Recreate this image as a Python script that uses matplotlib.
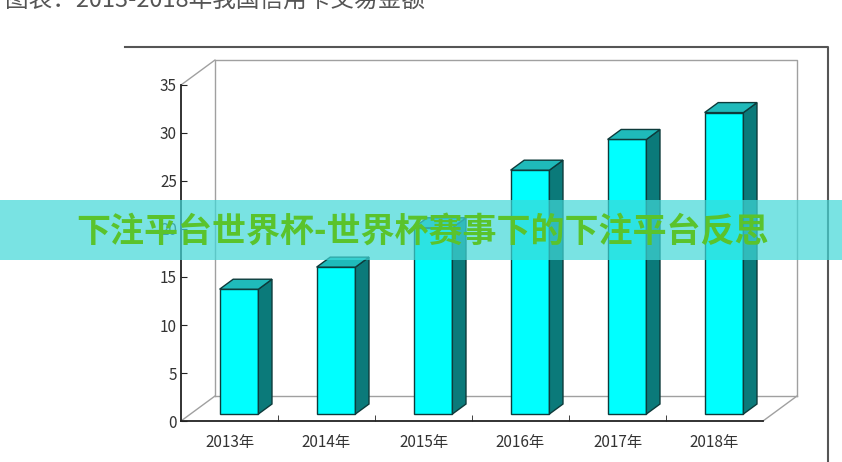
import numpy as np
import matplotlib.pyplot as plt
from matplotlib.patches import Polygon, Rectangle
from matplotlib.lines import Line2D

plt.rcParams['font.family'] = ['Noto Sans CJK SC', 'DejaVu Sans']

years = ['2013年', '2014年', '2015年', '2016年', '2017年', '2018年']
amounts = [13.0, 15.3, 19.4, 25.4, 28.6, 31.4]
y_ticks = [0, 5, 10, 15, 20, 25, 30, 35]
title = '图表：2013-2018年我国信用卡交易金额'
banner = '下注平台世界杯-世界杯赛事下的下注平台反思'

W, H = 842, 462
fig = plt.figure(figsize=(W / 100, H / 100), dpi=100)
ax = fig.add_axes([181 / W, 1 - 421 / H, 582 / W, 336 / H])
x0_lim, x1_lim = -0.5, len(years) - 0.5
y0_lim, y1_lim = 0, 35
ax.set_xlim(x0_lim, x1_lim)
ax.set_ylim(y0_lim, y1_lim)

# oblique depth of the box (data units) and where the bars sit inside it
ddx, ddy = 0.35, 2.6
f0, f1 = 0.28, 0.68
bw = 0.4

wall = '#a0a0a0'
# back wall + floor
ax.plot([x0_lim + ddx, x0_lim + ddx, x1_lim + ddx, x1_lim + ddx],
        [y0_lim + ddy, y1_lim + ddy, y1_lim + ddy, y0_lim + ddy],
        color=wall, lw=1, clip_on=False, zorder=1)
ax.plot([x0_lim + ddx, x1_lim + ddx], [ddy, ddy], color=wall, lw=1, clip_on=False, zorder=1)
for xx, yy in [(x0_lim, y0_lim), (x1_lim, y0_lim), (x0_lim, y1_lim)]:
    ax.plot([xx, xx + ddx], [yy, yy + ddy], color=wall, lw=1, clip_on=False, zorder=1)

# bars
x = np.arange(len(years))
edge = '#0d3b3b'
ax.bar(x + f0 * ddx, amounts, width=bw, bottom=f0 * ddy, color='#00ffff',
       edgecolor=edge, linewidth=1, zorder=3, clip_on=False)
bx, by = (f1 - f0) * ddx, (f1 - f0) * ddy
for i, v in enumerate(amounts):
    left = i - bw / 2 + f0 * ddx
    right = left + bw
    bot = f0 * ddy
    top = bot + v
    side = Polygon([(right, bot), (right + bx, bot + by), (right + bx, top + by), (right, top)],
                   closed=True, facecolor='#0b7a7a', edgecolor=edge, lw=1, zorder=3, clip_on=False)
    cap = Polygon([(left, top), (right, top), (right + bx, top + by), (left + bx, top + by)],
                  closed=True, facecolor='#1fbaba', edgecolor=edge, lw=1, zorder=3, clip_on=False)
    ax.add_patch(side)
    ax.add_patch(cap)

# axes
for s in ['top', 'right']:
    ax.spines[s].set_visible(False)
for s in ['left', 'bottom']:
    ax.spines[s].set_color('#222222')
    ax.spines[s].set_linewidth(1.3)
ax.set_facecolor('none')
ax.set_yticks(y_ticks)
ax.tick_params(axis='y', direction='in', length=4, pad=3, labelsize=11,
               labelcolor='#333333', color='#222222')
ax.set_xticks(x)
ax.set_xticklabels(years)
ax.set_xticks(x[:-1] + 0.5, minor=True)
ax.tick_params(axis='x', which='major', length=0, pad=9, labelsize=11, labelcolor='#333333')
ax.tick_params(axis='x', which='minor', direction='in', length=4, color='#222222')

# page decorations
fig.text(5 / W, 1 - 6.7 / H, title, ha='left', va='baseline', fontsize=17, color='#555555')
fig.add_artist(Line2D([125 / W, 828 / W, 828 / W], [1 - 47 / H, 1 - 47 / H, 0],
                      transform=fig.transFigure, color='#555555', lw=1.5))
fig.add_artist(Rectangle((0, 1 - 260 / H), 1, 60 / H, transform=fig.transFigure,
                         facecolor='#40d8d8', alpha=0.7, edgecolor='none', zorder=10))
fig.text(422 / W, 1 - 231 / H, banner, ha='center', va='center', fontsize=24.5,
         fontweight='heavy', color='#5ac32c', zorder=11)

fig.savefig('out.png', dpi=100)
